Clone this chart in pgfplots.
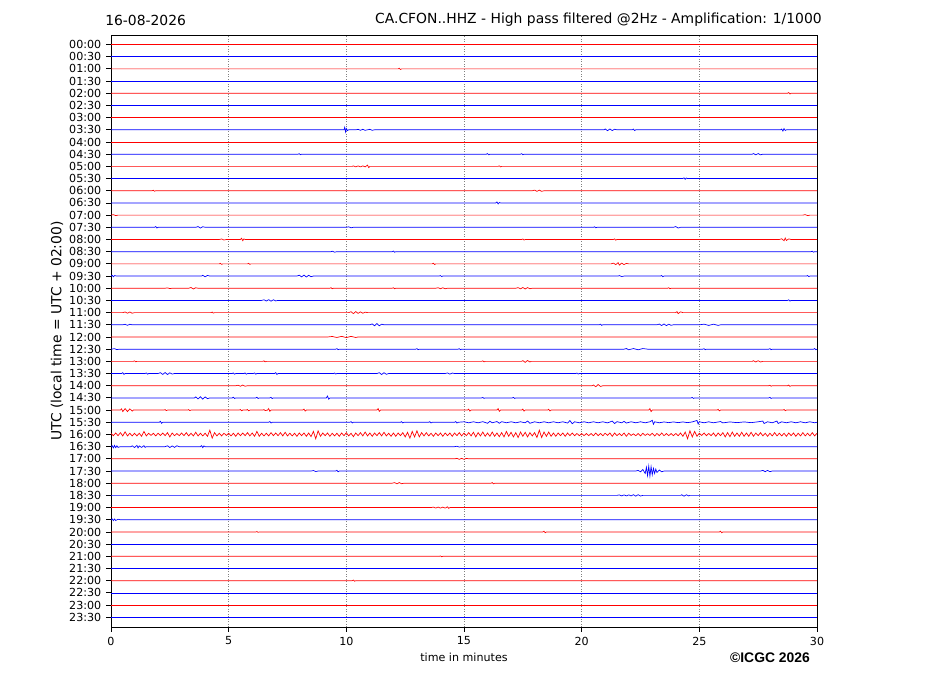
\documentclass[border=0pt]{standalone}
\usepackage{fontspec}
\setmainfont{DejaVu Sans}
\newfontfamily\icgcfont{Liberation Sans}
\usepackage{pgfplots}
\pgfplotsset{compat=1.18}
\begin{document}
\begin{tikzpicture}
\path (0,0) rectangle (667.44pt,-501.12pt);
\begin{axis}[
 at={(79.92pt,-451.44pt)}, anchor=south west,
 scale only axis, width=508.32pt, height=426.24pt,
 xmin=0, xmax=30, ymin=-47.8, ymax=0.78,
 xtick={0,5,...,30}, ytick={0,-1,...,-47},
 yticklabels={00:00,00:30,01:00,01:30,02:00,02:30,03:00,03:30,04:00,04:30,05:00,05:30,06:00,06:30,07:00,07:30,08:00,08:30,09:00,09:30,10:00,10:30,11:00,11:30,12:00,12:30,13:00,13:30,14:00,14:30,15:00,15:30,16:00,16:30,17:00,17:30,18:00,18:30,19:00,19:30,20:00,20:30,21:00,21:30,22:00,22:30,23:00,23:30},
 tick align=outside, xtick pos=left, ytick pos=left,
 major tick length=3.5pt,
 tick style={black, line width=0.6pt},
 xmajorgrids, grid style={gray, line width=0.5pt, dash pattern=on 0.7pt off 1.1pt},
 axis line style={line width=0.7pt},
 ticklabel style={font=\fontsize{8}{9.6}\selectfont},
 /pgf/number format/assume math mode=true,
 r/.style={red, line width=0.5pt, mark=none},
 b/.style={blue, line width=0.5pt, mark=none},
]
\addplot[r] coordinates {(0,0)(30,0)};
\addplot[b] coordinates {(0,-1)(30,-1)};
\addplot[r] coordinates {(0,-2)(12.2,-2)(12.25,-1.95)(12.3,-2.05)(12.35,-2)(30,-2)};
\addplot[b] coordinates {(0,-3)(30,-3)};
\addplot[r] coordinates {(0,-4)(28.75,-4)(28.8,-3.94)(28.85,-4.06)(28.9,-4)(30,-4)};
\addplot[b] coordinates {(0,-5)(30,-5)};
\addplot[r] coordinates {(0,-6)(30,-6)};
\addplot[b] coordinates {(0,-7)(9.9,-7)(9.93,-6.8)(9.97,-7.18)(10.0,-6.9)(10.05,-7.06)(10.1,-7)(10.4,-7)(10.5,-6.96)(10.6,-7.04)(10.7,-6.96)(10.8,-7.04)(10.9,-7)(11.0,-6.96)(11.1,-7.04)(11.2,-7)(20.95,-7)(21.0,-6.93)(21.1,-7.07)(21.2,-6.93)(21.3,-7.06)(21.4,-6.95)(21.5,-7)(22.15,-7)(22.2,-6.94)(22.25,-7.06)(22.3,-7)(28.45,-7)(28.5,-6.94)(28.55,-7.1)(28.6,-6.9)(28.65,-7.05)(28.7,-7)(30,-7)};
\addplot[r] coordinates {(0,-8)(30,-8)};
\addplot[b] coordinates {(0,-9)(7.95,-9)(8.0,-8.96)(8.05,-9.04)(8.1,-9)(15.95,-9)(16.0,-8.95)(16.05,-9.05)(16.1,-9)(17.4,-9)(17.45,-8.96)(17.5,-9.04)(17.55,-9)(27.25,-9)(27.3,-8.95)(27.4,-9.05)(27.5,-8.95)(27.6,-9.05)(27.7,-9)(30,-9)};
\addplot[r] coordinates {(0,-10)(10.25,-10)(10.3,-9.96)(10.4,-10.04)(10.5,-9.96)(10.6,-10.04)(10.7,-9.96)(10.8,-10.04)(10.9,-9.9)(10.95,-10.1)(11.0,-10)(16.45,-10)(16.5,-9.96)(16.55,-10.04)(16.6,-10)(30,-10)};
\addplot[b] coordinates {(0,-11)(24.3,-11)(24.35,-10.94)(24.4,-11.06)(24.45,-10.96)(24.5,-11)(30,-11)};
\addplot[r] coordinates {(0,-12)(1.75,-12)(1.8,-11.96)(1.85,-12.04)(1.9,-12)(17.9,-12)(18.0,-11.95)(18.1,-12.05)(18.2,-11.95)(18.3,-12.05)(18.4,-12)(30,-12)};
\addplot[b] coordinates {(0,-13)(16.35,-13)(16.4,-12.92)(16.45,-13.08)(16.5,-12.96)(16.55,-13)(30,-13)};
\addplot[r] coordinates {(0,-14)(0.1,-13.96)(0.2,-14.04)(0.3,-14)(29.4,-14)(29.5,-13.96)(29.6,-14.04)(29.7,-14)(30,-14)};
\addplot[b] coordinates {(0,-15)(1.85,-15)(1.9,-14.94)(1.95,-15.06)(2.0,-15)(3.6,-15)(3.7,-14.94)(3.8,-15.06)(3.9,-14.95)(4.0,-15)(10.0,-15)(10.1,-14.96)(10.2,-15.04)(10.3,-15)(20.5,-15)(20.55,-14.96)(20.6,-15.04)(20.65,-15)(23.9,-15)(24.0,-14.94)(24.1,-15.06)(24.2,-15)(30,-15)};
\addplot[r] coordinates {(0,-16)(4.6,-16)(4.7,-15.96)(4.8,-16.04)(4.9,-16)(5.5,-16)(5.55,-15.9)(5.6,-16.1)(5.65,-15.95)(5.7,-16)(17.45,-16)(17.5,-15.96)(17.55,-16.04)(17.6,-16)(21.35,-16)(21.4,-15.95)(21.45,-16.05)(21.5,-16)(28.4,-16)(28.5,-15.94)(28.6,-16.1)(28.65,-15.88)(28.7,-16.08)(28.8,-15.95)(28.9,-16)(30,-16)};
\addplot[b] coordinates {(0,-17)(9.35,-17)(9.4,-16.96)(9.5,-17.04)(9.6,-17)(11.95,-17)(12.0,-16.95)(12.05,-17.05)(12.1,-17)(29.75,-17)(29.8,-16.96)(29.85,-17.04)(29.9,-17)(30,-17)};
\addplot[r] coordinates {(0,-18)(4.6,-18)(4.65,-17.96)(4.7,-18.04)(4.75,-18)(5.8,-18)(5.85,-17.96)(5.9,-18.04)(5.95,-18)(13.65,-18)(13.7,-17.95)(13.75,-18.05)(13.8,-18)(21.25,-18)(21.35,-17.94)(21.45,-18.06)(21.55,-17.9)(21.6,-18.1)(21.7,-17.94)(21.8,-18.06)(21.9,-17.96)(22.0,-18)(30,-18)};
\addplot[b] coordinates {(0,-19)(0.05,-18.94)(0.1,-19.06)(0.15,-18.96)(0.25,-19)(3.85,-19)(3.9,-18.94)(4.0,-19.06)(4.1,-18.95)(4.2,-19)(7.9,-19)(8.0,-18.93)(8.1,-19.07)(8.2,-18.92)(8.3,-19.08)(8.4,-18.94)(8.5,-19.05)(8.6,-19)(13.95,-19)(14.0,-18.96)(14.05,-19.04)(14.1,-19)(21.55,-19)(21.6,-18.96)(21.7,-19.04)(21.8,-19)(23.35,-19)(23.4,-18.95)(23.45,-19.05)(23.5,-19)(29.55,-19)(29.6,-18.96)(29.65,-19.04)(29.7,-19)(30,-19)};
\addplot[r] coordinates {(0,-20)(2.3,-20)(2.4,-19.97)(2.5,-20.03)(2.6,-20)(3.3,-20)(3.4,-19.94)(3.5,-20.06)(3.6,-19.96)(3.7,-20)(9.3,-20)(9.35,-19.96)(9.4,-20.04)(9.45,-20)(11.95,-20)(12.0,-19.96)(12.05,-20.04)(12.1,-20)(13.8,-20)(13.9,-19.96)(14.0,-20.04)(14.1,-19.96)(14.2,-20.04)(14.3,-20)(17.2,-20)(17.3,-19.95)(17.4,-20.05)(17.5,-19.94)(17.6,-20.06)(17.7,-19.95)(17.8,-20.04)(17.9,-20)(23.65,-20)(23.7,-19.96)(23.75,-20.04)(23.8,-20)(30,-20)};
\addplot[b] coordinates {(0,-21)(6.4,-21)(6.5,-20.95)(6.6,-21.05)(6.7,-20.94)(6.8,-21.06)(6.9,-20.95)(7.0,-21.04)(7.1,-21)(28.75,-21)(28.8,-20.95)(28.85,-21.05)(28.9,-21)(30,-21)};
\addplot[r] coordinates {(0,-22)(0.5,-22)(0.6,-21.95)(0.7,-22.05)(0.8,-21.95)(0.9,-22.05)(1.0,-22)(4.25,-22)(4.3,-21.96)(4.35,-22.04)(4.4,-22)(10.1,-22)(10.2,-21.93)(10.3,-22.08)(10.4,-21.92)(10.5,-22.06)(10.6,-21.94)(10.7,-22.05)(10.8,-21.96)(10.9,-22)(24.0,-22)(24.05,-21.92)(24.1,-22.08)(24.2,-21.94)(24.3,-22)(30,-22)};
\addplot[b] coordinates {(0,-23)(0.5,-23)(0.6,-22.96)(0.7,-23.04)(0.8,-22.96)(0.9,-23)(11.0,-23)(11.1,-22.93)(11.2,-23.08)(11.3,-22.9)(11.4,-23.08)(11.5,-22.95)(11.6,-23)(20.75,-23)(20.8,-22.95)(20.85,-23.05)(20.9,-23)(23.2,-23)(23.3,-22.94)(23.4,-23.06)(23.5,-22.93)(23.6,-23.07)(23.7,-22.95)(23.8,-23.04)(23.9,-23)(25.0,-23)(25.2,-22.95)(25.4,-23.05)(25.6,-22.95)(25.8,-23.05)(25.9,-23)(30,-23)};
\addplot[r] coordinates {(0,-24)(9.2,-24)(9.4,-23.96)(9.6,-24.04)(9.8,-23.95)(10.0,-24.05)(10.2,-23.95)(10.4,-24.04)(10.5,-24)(30,-24)};
\addplot[b] coordinates {(0,-25)(0.15,-24.96)(0.25,-25.04)(0.35,-25)(9.55,-25)(9.6,-24.96)(9.65,-25.04)(9.7,-25)(12.95,-25)(13.0,-24.96)(13.05,-25.04)(13.1,-25)(14.75,-25)(14.8,-24.96)(14.85,-25.04)(14.9,-25)(21.8,-25)(21.9,-24.95)(22.0,-25.05)(22.2,-24.95)(22.4,-25.05)(22.6,-24.95)(22.8,-25)(25.15,-25)(25.2,-24.96)(25.25,-25.04)(25.3,-25)(27.95,-25)(28.0,-24.96)(28.05,-25.04)(28.1,-25)(29.85,-25)(29.9,-24.95)(29.95,-25.05)(30,-25)};
\addplot[r] coordinates {(0,-26)(0.95,-26)(1.0,-25.96)(1.05,-26.04)(1.1,-26)(6.45,-26)(6.5,-25.96)(6.55,-26.04)(6.6,-26)(15.75,-26)(15.8,-25.96)(15.85,-26.04)(15.9,-26)(17.45,-26)(17.5,-25.94)(17.6,-26.08)(17.7,-25.93)(17.8,-26.05)(17.85,-26)(27.25,-26)(27.3,-25.95)(27.4,-26.05)(27.5,-25.95)(27.6,-26.05)(27.7,-26)(30,-26)};
\addplot[b] coordinates {(0,-27)(0.45,-27)(0.5,-26.93)(0.55,-27.07)(0.6,-27)(1.45,-27)(1.5,-26.95)(1.55,-27.05)(1.6,-27)(2.0,-27)(2.1,-26.93)(2.2,-27.07)(2.3,-26.92)(2.4,-27.08)(2.5,-26.94)(2.6,-27.04)(2.7,-27)(5.15,-27)(5.2,-26.95)(5.25,-27.05)(5.3,-27)(5.65,-27)(5.7,-26.95)(5.75,-27.05)(5.8,-27)(6.05,-27)(6.1,-26.95)(6.15,-27.05)(6.2,-27)(6.95,-27)(7.0,-26.93)(7.05,-27.07)(7.1,-27)(9.45,-27)(9.5,-26.96)(9.55,-27.04)(9.6,-27)(11.3,-27)(11.4,-26.93)(11.5,-27.08)(11.6,-26.93)(11.7,-27.06)(11.8,-27)(14.2,-27)(14.3,-26.95)(14.4,-27.05)(14.5,-26.96)(14.6,-27)(19.75,-27)(19.8,-26.96)(19.85,-27.04)(19.9,-27)(30,-27)};
\addplot[r] coordinates {(0,-28)(5.3,-28)(5.4,-27.96)(5.5,-28.04)(5.6,-27.95)(5.7,-28.04)(5.8,-28)(20.45,-28)(20.5,-27.94)(20.6,-28.08)(20.7,-27.9)(20.8,-28.06)(20.9,-28)(27.95,-28)(28.0,-27.96)(28.05,-28.04)(28.1,-28)(28.75,-28)(28.8,-27.95)(28.85,-28.05)(28.9,-28)(30,-28)};
\addplot[b] coordinates {(0,-29)(3.55,-29)(3.6,-28.92)(3.7,-29.08)(3.8,-28.9)(3.9,-29.1)(4.0,-28.92)(4.1,-29.06)(4.2,-29)(5.15,-29)(5.2,-28.95)(5.25,-29.05)(5.3,-29)(6.15,-29)(6.2,-28.95)(6.25,-29.05)(6.3,-29)(6.75,-29)(6.8,-28.95)(6.85,-29.05)(6.9,-29)(9.15,-29)(9.2,-28.85)(9.25,-29.1)(9.3,-29)(15.75,-29)(15.8,-28.96)(15.85,-29.04)(15.9,-29)(17.05,-29)(17.1,-28.96)(17.15,-29.04)(17.2,-29)(24.65,-29)(24.7,-28.96)(24.75,-29.04)(24.8,-29)(27.95,-29)(28.0,-28.96)(28.05,-29.04)(28.1,-29)(30,-29)};
\addplot[r] coordinates {(0,-30)(0.4,-30)(0.45,-29.9)(0.5,-30.12)(0.6,-29.88)(0.7,-30.12)(0.8,-29.9)(0.9,-30.08)(0.95,-30)(2.25,-30)(2.3,-29.96)(2.35,-30.04)(2.4,-30)(3.25,-30)(3.3,-29.96)(3.35,-30.04)(3.4,-30)(5.45,-30)(5.5,-29.95)(5.55,-30.05)(5.6,-30)(5.75,-30)(5.8,-29.95)(5.85,-30.05)(5.9,-30)(6.45,-30)(6.5,-29.96)(6.55,-30.04)(6.65,-30)(6.7,-29.88)(6.75,-30.1)(6.8,-30)(8.15,-30)(8.2,-29.92)(8.25,-30.08)(8.3,-30)(11.3,-30)(11.35,-29.88)(11.4,-30.1)(11.45,-30)(15.15,-30)(15.2,-29.92)(15.25,-30.08)(15.3,-30)(16.4,-30)(16.45,-29.88)(16.5,-30.1)(16.55,-30)(17.45,-30)(17.5,-29.92)(17.55,-30.08)(17.6,-30)(18.55,-30)(18.6,-29.93)(18.65,-30.07)(18.7,-30)(22.85,-30)(22.9,-29.88)(22.95,-30.12)(23.0,-30)(25.75,-30)(25.8,-29.94)(25.85,-30.06)(25.9,-30)(28.55,-30)(28.6,-29.95)(28.65,-30.05)(28.7,-30)(30,-30)};
\addplot[b] coordinates {(0,-31)(2.05,-31)(2.1,-30.92)(2.15,-31.08)(2.2,-31)(6.7,-31)(6.75,-30.94)(6.8,-31.06)(6.85,-31)(10.15,-31)(10.2,-30.95)(10.25,-31.05)(10.3,-31)(12.3,-31)(12.35,-30.95)(12.4,-31.05)(12.45,-31)(13.5,-31)(13.55,-30.95)(13.6,-31.05)(13.65,-31)(14.6,-31)(14.65,-30.94)(14.7,-31.06)(14.75,-31)
(15.0,-30.96)(15.2,-31.04)(15.4,-30.96)(15.6,-31.04)(15.8,-30.95)(16.0,-31.08)(16.1,-30.92)(16.2,-31.04)(16.4,-30.94)(16.5,-31.08)(16.6,-30.95)(16.8,-31.04)(17.0,-30.96)(17.2,-31.04)(17.4,-30.96)(17.6,-31.04)(17.7,-30.9)(17.8,-31.08)(18.0,-30.96)(18.2,-31.04)(18.4,-30.96)(18.6,-31.04)(18.8,-30.96)(19.0,-31.04)(19.2,-30.96)(19.4,-31.06)(19.5,-30.86)(19.6,-31.12)(19.7,-30.96)(19.9,-31.04)(20.1,-30.96)(20.3,-31.04)(20.5,-30.96)(20.7,-31.04)(20.9,-30.96)(21.1,-31.05)(21.3,-30.9)(21.4,-31.1)(21.5,-30.95)(21.7,-31.04)(21.8,-30.93)(21.9,-31.06)(22.1,-30.96)(22.3,-31.04)(22.5,-30.96)(22.7,-31.04)(22.9,-30.96)(23.0,-30.84)(23.05,-31.16)(23.1,-30.96)(23.3,-31.04)(23.5,-30.97)(23.7,-31.03)(23.9,-30.97)(24.1,-31.03)(24.3,-30.97)(24.5,-31.03)(24.7,-30.97)(24.9,-30.85)(24.95,-31.15)(25.0,-30.96)(25.2,-31.04)(25.4,-30.96)(25.6,-31.04)(25.9,-30.94)(26.0,-31.05)(26.3,-30.97)(26.6,-31.03)(26.9,-30.97)(27.2,-31.03)(27.5,-30.96)(27.7,-30.9)(27.75,-31.1)(27.9,-30.96)(28.1,-31.04)(28.3,-30.9)(28.35,-31.1)(28.5,-30.96)(28.7,-31.04)(28.9,-30.96)(29.1,-31.04)(29.3,-30.96)(29.5,-31.04)(29.7,-30.96)(29.9,-31.04)(30,-31)};
\addplot[r] coordinates {
(0,-31.92)(0.1,-32.1)(0.2,-31.88)(0.3,-32.1)(0.4,-31.85)(0.5,-32.12)(0.6,-31.78)(0.7,-32.12)(0.8,-31.9)(0.9,-32.12)
(1,-31.9)(1.1,-32.12)(1.2,-31.9)(1.3,-32.15)(1.4,-31.75)(1.5,-32.12)(1.6,-31.9)(1.7,-32.08)(1.8,-31.9)(1.9,-32.12)
(2,-31.9)(2.1,-32.08)(2.2,-31.88)(2.3,-32.1)(2.4,-31.85)(2.5,-32.2)(2.6,-31.88)(2.7,-32.1)(2.8,-31.92)(2.9,-32.1)
(3,-31.88)(3.1,-32.1)(3.2,-31.85)(3.3,-32.12)(3.4,-31.9)(3.5,-32.12)(3.6,-31.82)(3.7,-32.12)(3.8,-31.9)(3.9,-32.12)
(4,-31.9)(4.1,-32.15)(4.2,-31.65)(4.3,-32.3)(4.4,-31.85)(4.5,-32.12)(4.6,-31.9)(4.7,-32.12)(4.8,-31.9)(4.9,-32.08)
(5,-31.9)(5.1,-32.12)(5.2,-31.9)(5.3,-32.15)(5.4,-31.88)(5.5,-32.1)(5.6,-31.88)(5.7,-32.1)(5.8,-31.85)(5.9,-32.12)
(6,-31.88)(6.1,-32.15)(6.2,-31.75)(6.3,-32.15)(6.4,-31.9)(6.5,-32.12)(6.6,-31.9)(6.7,-32.12)(6.8,-31.85)(6.9,-32.1)
(7,-31.88)(7.1,-32.1)(7.2,-31.85)(7.3,-32.12)(7.4,-31.82)(7.5,-32.12)(7.6,-31.9)(7.7,-32.12)(7.8,-31.9)(7.9,-32.15)
(8,-31.88)(8.1,-32.1)(8.2,-31.88)(8.3,-32.15)(8.4,-31.88)(8.5,-32.18)(8.6,-31.75)(8.7,-32.35)(8.8,-31.7)(8.9,-32.15)
(9,-31.88)(9.1,-32.1)(9.2,-31.88)(9.3,-32.15)(9.4,-31.9)(9.5,-32.12)(9.6,-31.9)(9.7,-32.15)(9.8,-31.88)(9.9,-32.1)
(10,-31.85)(10.1,-32.12)(10.2,-31.9)(10.3,-32.18)(10.4,-31.88)(10.5,-32.1)(10.6,-31.85)(10.7,-32.12)(10.8,-31.8)(10.9,-32.12)
(11,-31.88)(11.1,-32.15)(11.2,-31.88)(11.3,-32.1)(11.4,-31.85)(11.5,-32.12)(11.6,-31.82)(11.7,-32.12)(11.8,-31.9)(11.9,-32.15)
(12,-31.88)(12.1,-32.15)(12.2,-31.88)(12.3,-32.1)(12.4,-31.85)(12.5,-32.2)(12.6,-31.82)(12.7,-32.3)(12.8,-31.75)(12.9,-32.2)
(13,-31.7)(13.1,-32.2)(13.2,-31.85)(13.3,-32.12)(13.4,-31.85)(13.5,-32.12)(13.6,-31.9)(13.7,-32.15)(13.8,-31.88)(13.9,-32.1)
(14,-31.88)(14.1,-32.15)(14.2,-31.88)(14.3,-32.1)(14.4,-31.88)(14.5,-32.15)(14.6,-31.88)(14.7,-32.1)(14.8,-31.85)(14.9,-32.12)
(15,-31.88)(15.1,-32.1)(15.2,-31.85)(15.3,-32.12)(15.4,-31.82)(15.5,-32.2)(15.6,-31.85)(15.7,-32.12)(15.8,-31.8)(15.9,-32.15)
(16,-31.88)(16.1,-32.15)(16.2,-31.8)(16.3,-32.15)(16.4,-31.88)(16.5,-32.18)(16.6,-31.85)(16.7,-32.2)(16.8,-31.75)(16.9,-32.15)
(17,-31.82)(17.1,-32.2)(17.2,-31.85)(17.3,-32.25)(17.4,-31.8)(17.5,-32.15)(17.6,-31.82)(17.7,-32.2)(17.8,-31.85)(17.9,-32.12)
(18,-31.85)(18.1,-32.25)(18.2,-31.65)(18.3,-32.25)(18.4,-31.8)(18.5,-32.15)(18.6,-31.8)(18.7,-32.15)(18.8,-31.88)(18.9,-32.15)
(19,-31.88)(19.1,-32.1)(19.2,-31.88)(19.3,-32.15)(19.4,-31.88)(19.5,-32.1)(19.6,-31.88)(19.7,-32.1)(19.8,-31.92)(19.9,-32.1)
(20,-31.92)(20.1,-32.1)(20.2,-31.92)(20.3,-32.1)(20.4,-31.92)(20.5,-32.1)(20.6,-31.88)(20.7,-32.1)(20.8,-31.92)(20.9,-32.1)
(21,-31.9)(21.1,-32.08)(21.2,-31.88)(21.3,-32.15)(21.4,-31.88)(21.5,-32.1)(21.6,-31.92)(21.7,-32.1)(21.8,-31.88)(21.9,-32.15)
(22,-31.9)(22.1,-32.08)(22.2,-31.95)(22.3,-32.1)(22.4,-31.92)(22.5,-32.12)(22.6,-31.9)(22.7,-32.08)(22.8,-31.94)(22.9,-32.08)
(23,-31.9)(23.1,-32.12)(23.2,-31.92)(23.3,-32.1)(23.4,-31.88)(23.5,-32.1)(23.6,-31.92)(23.7,-32.1)(23.8,-31.92)(23.9,-32.1)
(24,-31.92)(24.1,-32.1)(24.2,-31.88)(24.3,-32.15)(24.4,-31.8)(24.5,-32.35)(24.6,-31.7)(24.7,-32.2)(24.8,-31.75)(24.9,-32.15)
(25,-31.9)(25.1,-32.08)(25.2,-31.88)(25.3,-32.1)(25.4,-31.92)(25.5,-32.1)(25.6,-31.88)(25.7,-32.15)(25.8,-31.88)(25.9,-32.1)
(26,-31.85)(26.1,-32.2)(26.2,-31.85)(26.3,-32.18)(26.4,-31.8)(26.5,-32.15)(26.6,-31.88)(26.7,-32.15)(26.8,-31.82)(26.9,-32.15)
(27,-31.88)(27.1,-32.15)(27.2,-31.82)(27.3,-32.15)(27.4,-31.88)(27.5,-32.1)(27.6,-31.85)(27.7,-32.12)(27.8,-31.9)(27.9,-32.15)
(28,-31.9)(28.1,-32.12)(28.2,-31.85)(28.3,-32.12)(28.4,-31.9)(28.5,-32.12)(28.6,-31.9)(28.7,-32.15)(28.8,-31.88)(28.9,-32.1)
(29,-31.88)(29.1,-32.15)(29.2,-31.9)(29.3,-32.12)(29.4,-31.85)(29.5,-32.12)(29.6,-31.9)(29.7,-32.12)(29.8,-31.85)(29.9,-32.12)(30,-31.9)};
\addplot[b] coordinates {(0,-33)(0.05,-32.92)(0.1,-33.1)(0.15,-32.9)(0.2,-33.08)(0.25,-32.93)(0.3,-33.06)(0.4,-33)(0.85,-33)(0.9,-32.93)(1.0,-33.07)(1.1,-32.9)(1.15,-33.1)(1.2,-32.94)(1.3,-33.06)(1.4,-32.92)(1.45,-33.06)(1.5,-33)(2.3,-33)(2.4,-32.93)(2.5,-33.07)(2.6,-32.94)(2.7,-33.06)(2.8,-32.93)(2.9,-33)(3.8,-33)(3.85,-32.92)(3.9,-33.08)(3.95,-32.94)(4.0,-33)(14.6,-33)(14.7,-32.97)(14.8,-33.03)(14.9,-33)(30,-33)};
\addplot[r] coordinates {(0,-34)(14.6,-34)(14.7,-33.96)(14.8,-34.04)(14.9,-33.96)(15.0,-34.04)(15.1,-33.96)(15.2,-34)(30,-34)};
\addplot[b] coordinates {(0,-35)(8.5,-35)(8.6,-34.96)(8.7,-35.04)(8.8,-35)(9.55,-35)(9.6,-34.94)(9.65,-35.06)(9.7,-35)(22.3,-35)(22.4,-34.95)(22.5,-35.06)(22.6,-34.88)(22.7,-35.2)(22.75,-34.7)(22.8,-35.38)(22.85,-34.6)(22.9,-35.42)(22.95,-34.65)(23.0,-35.3)(23.05,-34.78)(23.1,-35.2)(23.15,-34.85)(23.2,-35.12)(23.3,-34.92)(23.4,-35.06)(23.5,-35)(27.6,-35)(27.7,-34.95)(27.8,-35.05)(27.9,-34.95)(28.0,-35.05)(28.1,-35)(30,-35)};
\addplot[r] coordinates {(0,-36)(11.95,-36)(12.05,-35.95)(12.15,-36.05)(12.25,-35.95)(12.35,-36.04)(12.45,-36)(16.15,-36)(16.2,-35.95)(16.25,-36.05)(16.3,-36)(30,-36)};
\addplot[b] coordinates {(0,-37)(21.5,-37)(21.6,-36.96)(21.7,-37.04)(21.8,-36.96)(21.9,-37.04)(22.0,-36.96)(22.1,-37.04)(22.2,-36.94)(22.3,-37.06)(22.4,-36.94)(22.5,-37.05)(22.6,-37)(24.2,-37)(24.25,-36.95)(24.35,-37.06)(24.45,-36.95)(24.55,-37.04)(24.6,-37)(30,-37)};
\addplot[r] coordinates {(0,-38)(13.6,-38)(13.7,-37.96)(13.8,-38.04)(13.9,-37.96)(14.0,-38.04)(14.1,-37.96)(14.2,-38.04)(14.3,-37.94)(14.35,-38.06)(14.4,-38)(30,-38)};
\addplot[b] coordinates {(0,-39)(0.05,-38.93)(0.1,-39.07)(0.15,-38.94)(0.2,-39.06)(0.3,-38.96)(0.4,-39)(30,-39)};
\addplot[r] coordinates {(0,-40)(6.15,-40)(6.2,-39.97)(6.25,-40.03)(6.3,-40)(18.35,-40)(18.4,-39.94)(18.45,-40.06)(18.5,-40)(25.85,-40)(25.9,-39.94)(25.95,-40.06)(26.0,-40)(30,-40)};
\addplot[b] coordinates {(0,-41)(30,-41)};
\addplot[r] coordinates {(0,-42)(13.95,-42)(14.0,-41.97)(14.05,-42.03)(14.1,-42)(30,-42)};
\addplot[b] coordinates {(0,-43)(30,-43)};
\addplot[r] coordinates {(0,-44)(10.25,-44)(10.3,-43.95)(10.35,-44.05)(10.4,-44)(30,-44)};
\addplot[b] coordinates {(0,-45)(30,-45)};
\addplot[r] coordinates {(0,-46)(30,-46)};
\addplot[b] coordinates {(0,-47)(30,-47)};
\end{axis}
\node[anchor=west, inner sep=0pt, font=\fontsize{10}{12}\selectfont] at (75.6pt,-14.4pt) {16-08-2026};
\node[anchor=east, inner sep=0pt, font=\fontsize{10}{12}\selectfont] at (591.84pt,-14.4pt) {CA.CFON..HHZ - High pass filtered @2Hz - Amplification: 1/1000};
\node[rotate=90, font=\fontsize{10}{12}\selectfont] at (41.04pt,-238.32pt) {UTC (local time = UTC + 02:00)};
\node[font=\fontsize{8}{9.6}\selectfont] at (334.08pt,-473.04pt) {time in minutes};
\node[font=\icgcfont\bfseries\fontsize{10}{12}\selectfont] at (554.4pt,-473.76pt) {©ICGC 2026};
\end{tikzpicture}
\end{document}
